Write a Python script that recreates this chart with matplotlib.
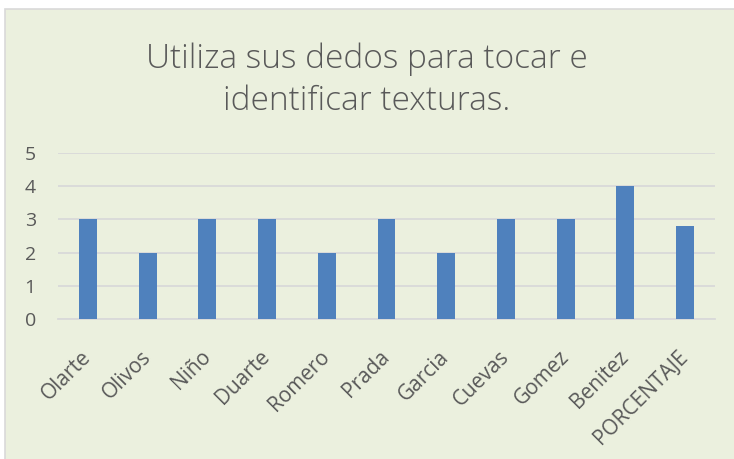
import numpy as np
import matplotlib.pyplot as plt
from matplotlib.patches import Rectangle

# data
names = ['Olarte', 'Olivos', 'Niño', 'Duarte', 'Romero', 'Prada', 'Garcia',
         'Cuevas', 'Gomez', 'Benitez', 'PORCENTAJE']
values = [3, 2, 3, 3, 2, 3, 2, 3, 3, 4, 2.8]
y_ticks = [0, 1, 2, 3, 4, 5]

W, H = 734, 459
bg = '#EBF0DE'
txt = '#595959'

plt.rcParams['font.family'] = ['Open Sans', 'DejaVu Sans']

fig = plt.figure(figsize=(W / 100, H / 100), dpi=100)
fig.patch.set_facecolor('white')

# chart area background with thin border (behind the axes)
fig.patches.append(Rectangle((5 / W, -0.01), (W - 4) / W, (H - 9) / H + 0.01,
                             transform=fig.transFigure, facecolor=bg,
                             edgecolor='#D9D9D9', linewidth=1.2, zorder=-5))

ax = fig.add_axes([58 / W, 1 - 319 / H, (715 - 58) / W, (319 - 153) / H])
ax.set_facecolor(bg)

x = np.arange(len(names))
ax.bar(x, values, width=0.3, color='#4F81BD', zorder=3)

ax.set_xlim(-0.5, len(names) - 0.5)
ax.set_ylim(0, 5)
ax.set_yticks(y_ticks)
ax.yaxis.grid(True, color='#D9D9D9', linewidth=1.3, zorder=0)
ax.set_axisbelow(True)
for s in ['top', 'right', 'left']:
    ax.spines[s].set_visible(False)
ax.spines['bottom'].set_color('#D9D9D9')
ax.spines['bottom'].set_linewidth(1.3)
ax.tick_params(axis='y', length=0, colors=txt, labelsize=14, pad=16)
ax.tick_params(axis='x', length=0, colors=txt, labelsize=15, pad=25)
ax.set_xticks(x)
ax.set_xticklabels(names, rotation=45, ha='right', va='center',
                   rotation_mode='anchor')

fig.text(0.5, 1 - 80 / H, 'Utiliza sus dedos para tocar e\nidentificar texturas.',
         ha='center', va='center', fontsize=24, color=txt, linespacing=1.35,
         fontweight='light')

fig.savefig('out.png', dpi=100, facecolor=fig.get_facecolor())
